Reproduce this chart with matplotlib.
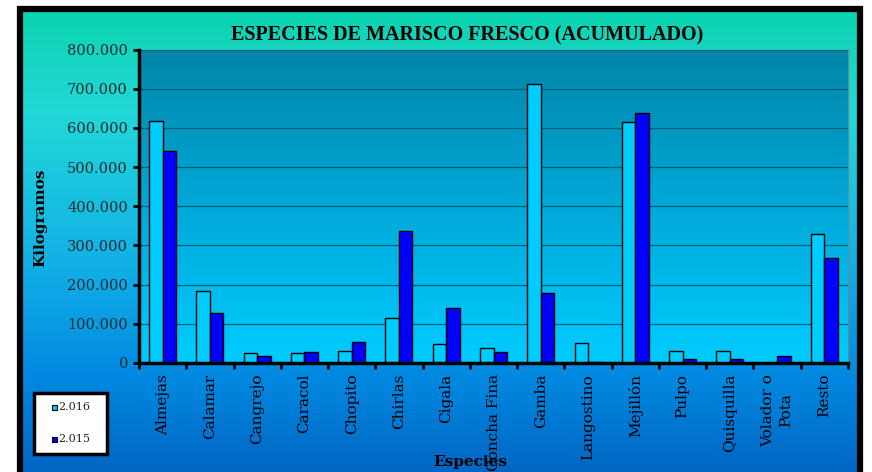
import numpy as np
import matplotlib
matplotlib.use("Agg")
import matplotlib.pyplot as plt
from matplotlib.colors import LinearSegmentedColormap
from matplotlib.patches import Rectangle
from matplotlib.ticker import FuncFormatter, MultipleLocator

categories = ["Almejas", "Calamar", "Cangrejo", "Caracol", "Chopito", "Chirlas",
              "Cigala", "Concha Fina", "Gamba", "Langostino", "Mejillón", "Pulpo",
              "Quisquilla", "Volador o\nPota", "Resto"]
series_names = ["2.016", "2.015"]
series_colors = ["#00ccff", "#0000ff"]
values_2016 = [618000, 185000, 26500, 26500, 31500, 115000, 49500, 37500, 711000,
               52000, 614000, 31500, 30000, 0, 328500]
values_2015 = [540000, 127000, 17000, 29000, 54500, 336000, 140000, 28000, 179000,
               3000, 637000, 11000, 10000, 17000, 269000]

W, H = 872, 472
fig = plt.figure(figsize=(W / 100, H / 100), dpi=100)
fig.patch.set_facecolor("white")

# outer gradient background inside black border
bx0, bx1 = 20 / W, 860 / W
by0, by1 = 0.0, 1 - 9 / H
bg = fig.add_axes([bx0, by0, bx1 - bx0, by1 - by0], zorder=0)
outer_cmap = LinearSegmentedColormap.from_list(
    "outer", [(0.0, "#0bd3ae"), (0.22, "#22d8d8"), (0.55, "#12b0e6"), (0.8, "#0088e0"), (1.0, "#0066c4")])
grad = np.linspace(0, 1, 256).reshape(-1, 1)
bg.imshow(grad, aspect="auto", cmap=outer_cmap, extent=[0, 1, 0, 1], origin="upper")
bg.set_xlim(0, 1)
bg.set_ylim(0, 1)
bg.axis("off")
# black frame
fig.patches.append(Rectangle((bx0, -0.05), bx1 - bx0, by1 + 0.05, transform=fig.transFigure,
                             fill=False, edgecolor="black", linewidth=4.5, zorder=1))

left, right = 139 / W, 848 / W
bottom, top = 1 - 363 / H, 1 - 49.5 / H
ax = fig.add_axes([left, bottom, right - left, top - bottom], zorder=2)
n = len(categories)
x = np.arange(n)
inner_cmap = LinearSegmentedColormap.from_list("inner", ["#0086a8", "#00a8d8", "#00ccff"])
ax.imshow(grad, aspect="auto", cmap=inner_cmap, extent=[-0.5, n - 0.5, 0, 800000],
          origin="upper", zorder=0)
ax.set_xlim(-0.5, n - 0.5)
ax.set_ylim(0, 800000)

ax.yaxis.set_major_locator(MultipleLocator(100000))
ax.grid(axis="y", color="#005f78", linewidth=0.9, zorder=1)
ax.set_axisbelow(False)

bw = 0.285
ax.bar(x - bw / 2, values_2016, bw, color=series_colors[0], edgecolor="black", linewidth=1.0,
       label=series_names[0], zorder=3)
ax.bar(x + bw / 2, values_2015, bw, color=series_colors[1], edgecolor="black", linewidth=1.0,
       label=series_names[1], zorder=3)

ax.spines["top"].set_color("#808080")
ax.spines["right"].set_color("#808080")
ax.spines["left"].set_linewidth(2.5)
ax.spines["bottom"].set_linewidth(2.5)
ax.spines["left"].set_zorder(4)
ax.spines["bottom"].set_zorder(4)

fmt = FuncFormatter(lambda v, p: "0" if v == 0 else f"{int(v):,}".replace(",", "."))
ax.yaxis.set_major_formatter(fmt)
serif = ["DejaVu Serif"]
ax.tick_params(axis="y", direction="out", length=4, width=2, labelsize=10.5, pad=4,
               labelcolor="#1a2a33")
for lab in ax.get_yticklabels():
    lab.set_family(serif)

ax.set_xticks(np.arange(-0.5, n, 1.0))
ax.set_xticklabels([])
ax.tick_params(axis="x", direction="out", length=4, width=2)
for i, c in enumerate(categories):
    ax.text(i, -0.035, c, transform=ax.get_xaxis_transform(), rotation=90,
            ha="center", va="top", fontsize=11, family=serif, color="black",
            multialignment="center", linespacing=1.3)

ax.set_ylabel("Kilogramos", fontsize=11, fontweight="bold", family=serif)
ax.yaxis.set_label_coords(-0.1298, 0.4625)
fig.text(470 / W, 1 - 462 / H, "Especies", ha="center", va="center", fontsize=11,
         fontweight="bold", family=serif)
fig.text(467 / W, 1 - 35 / H, "ESPECIES DE MARISCO FRESCO (ACUMULADO)", ha="center",
         va="center", fontsize=14.5, fontweight="bold", family=["Liberation Serif"])

# legend box (drawn manually to match the position)
lx0, lx1, ly0, ly1 = 34, 107, 393, 454
fig.patches.append(Rectangle((lx0 / W, 1 - ly1 / H), (lx1 - lx0) / W, (ly1 - ly0) / H,
                             transform=fig.transFigure, facecolor="white",
                             edgecolor="black", linewidth=2.5, zorder=5))
for name, col, yc in zip(series_names, series_colors, [407, 439]):
    fig.patches.append(Rectangle((52 / W, 1 - (yc + 2.5) / H), 5 / W, 5 / H,
                                 transform=fig.transFigure, facecolor=col,
                                 edgecolor="black", linewidth=0.8, zorder=6))
    fig.text(58 / W, 1 - yc / H, name, ha="left", va="center", fontsize=8,
             family=serif, color="#222222", zorder=6)

fig.savefig("out.png", dpi=100)
